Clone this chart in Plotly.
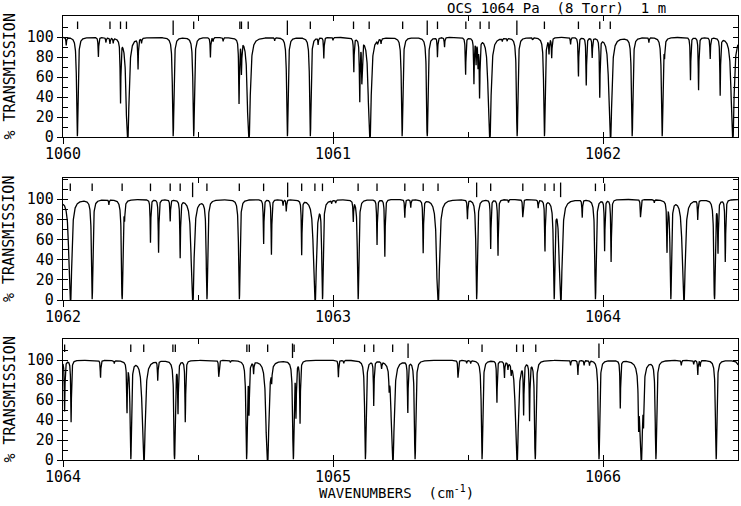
import numpy as np
import plotly.graph_objects as go

# ---------------- data ----------------
panel_start = [1060.0, 1062.0, 1064.0]
panel_span = 2.5
y_tick_values = [0, 20, 40, 60, 80, 100]

# broad, saturated lines (main series), reach 0 %
strong_nu = [1060.239, 1060.688, 1061.136, 1061.580, 1062.027, 1062.480, 1062.933,
             1063.389, 1063.843, 1064.299, 1064.757, 1065.221, 1065.681, 1066.141]

# narrow, saturated lines, reach ~0 %
deep_nu = [1060.053, 1060.408, 1060.484, 1060.831, 1060.916, 1061.256, 1061.349,
           1061.682, 1061.783, 1062.108, 1062.219, 1062.533, 1062.653, 1062.961,
           1063.093, 1063.532, 1063.819, 1063.972, 1064.251, 1064.413, 1064.680,
           1064.853, 1065.120, 1065.304, 1065.552, 1065.749, 1065.985, 1066.196,
           1066.419, 1066.512]

# unsaturated lines: centre and minimum transmission (%)
weak_nu = [1060.012, 1060.131, 1060.159, 1060.174, 1060.186, 1060.213, 1060.278,
           1060.291, 1060.546, 1060.556, 1060.593, 1060.652, 1060.661, 1060.784,
           1060.945, 1060.966, 1061.000, 1061.077, 1061.099, 1061.107, 1061.165,
           1061.178, 1061.387, 1061.413, 1061.491, 1061.522, 1061.530, 1061.537,
           1061.543, 1061.627, 1061.645, 1061.739, 1061.800, 1061.810, 1061.880,
           1061.909, 1061.938, 1061.960, 1061.988, 1062.170, 1062.228, 1062.324,
           1062.354, 1062.397, 1062.434, 1062.743, 1062.772, 1062.815, 1062.827,
           1062.884, 1062.995, 1063.010, 1063.075, 1063.163, 1063.192, 1063.266,
           1063.288, 1063.334, 1063.498, 1063.584, 1063.611, 1063.650, 1063.703,
           1063.760, 1063.785, 1063.923, 1064.006, 1064.030, 1064.139, 1064.190,
           1064.237, 1064.351, 1064.426, 1064.453, 1064.577, 1064.620, 1064.689,
           1064.706, 1064.773, 1064.863, 1064.878, 1065.020, 1065.040, 1065.151,
           1065.180, 1065.208, 1065.277, 1065.463, 1065.495, 1065.510, 1065.607,
           1065.635, 1065.648, 1065.660, 1065.706, 1065.728, 1065.880, 1065.907,
           1065.930, 1065.950, 1066.064, 1066.132, 1066.150, 1066.290, 1066.336,
           1066.351, 1066.360]
weak_min_pct = [92, 80, 95, 94, 95, 34, 69,
                95, 80, 96, 96, 34, 65, 97,
                93, 79, 97, 65, 35, 55, 96,
                95, 80, 90, 62, 54, 75, 72,
                39, 97, 97, 98, 85, 80, 93,
                60, 52, 80, 40, 95, 85, 57,
                47, 78, 42, 55, 45, 94, 88,
                45, 97, 97, 79, 54, 43, 82,
                92, 47, 81, 51, 43, 97, 82,
                92, 48, 82, 49, 38, 82, 97,
                48, 80, 48, 37, 83, 98, 48,
                88, 85, 44, 37, 83, 97, 54,
                93, 80, 47, 82, 97, 97, 57,
                83, 93, 90, 47, 40, 95, 85,
                95, 95, 52, 40, 45, 95, 96,
                85, 94]

# line-assignment marks above the spectra
tick_nu = [1060.054, 1060.174, 1060.213, 1060.235, 1060.484, 1060.655, 1060.661,
           1060.686, 1060.916, 1061.076, 1061.134, 1061.258, 1061.387, 1061.492,
           1061.545, 1061.578, 1061.783, 1061.909, 1061.988, 1062.027,
           1062.108, 1062.219, 1062.324, 1062.397, 1062.434, 1062.533, 1062.653,
           1062.743, 1062.884, 1062.933, 1062.961, 1063.093, 1063.163, 1063.266,
           1063.334, 1063.389, 1063.584, 1063.703, 1063.785, 1063.819, 1063.972,
           1064.006,
           1064.251, 1064.299, 1064.407, 1064.416, 1064.681, 1064.690, 1064.758,
           1064.856, 1065.117, 1065.151, 1065.221, 1065.552, 1065.680, 1065.705,
           1065.751]
long_tick_nu = [1060.408, 1060.831, 1061.349, 1061.681,
                1062.480, 1062.832, 1063.532, 1063.843,
                1064.850, 1065.278, 1065.985]

title_text = "OCS 1064 Pa  (8 Torr)  1 m"
x_title = "WAVENUMBERS  (cm<sup>-1</sup>)"
y_title = "% TRANSMISSION"

# ---------------- spectrum from the line list ----------------
gamma = 0.0012
strong_tau = 20.0
deep_tau = 5.0
centres = np.array(strong_nu + deep_nu + weak_nu)
taus = np.array([strong_tau] * len(strong_nu) + [deep_tau] * len(deep_nu)
                + list(-np.log(np.array(weak_min_pct) / 100.0)))


def transmission(nu):
    d = nu[:, None] - centres[None, :]
    tau = (taus[None, :] * gamma ** 2 / (d ** 2 + gamma ** 2)).sum(axis=1)
    return 100.0 * np.exp(-tau)


# ---------------- figure ----------------
MONO = "DejaVu Sans Mono"
W, H = 741, 506
ML, MR, MT, MB = 63, 3, 16, 46
plot_w = W - ML - MR
plot_h = H - MT - MB
panel_px = [(16, 137), (178, 300), (339, 460)]   # top / bottom of the frames
YMAX = 121


def px_x(px):
    return (px - ML) / plot_w


def px_y(py):
    return (H - MB - py) / plot_h


fig = go.Figure()
layout = dict(width=W, height=H, margin=dict(l=ML, r=MR, t=MT, b=MB),
              paper_bgcolor="white", plot_bgcolor="white", showlegend=False,
              font=dict(family=MONO, color="black"))
annotations = []

for i, s in enumerate(panel_start, start=1):
    top, bot = panel_px[i - 1]
    dom = [px_y(bot), px_y(top)]
    rng = [s, s + panel_span]
    nu = np.arange(s, s + panel_span + 1e-9, 0.0004)
    fig.add_trace(go.Scatter(x=nu, y=transmission(nu), mode="lines",
                             line=dict(color="black", width=1.3),
                             xaxis=f"x{i}", yaxis=f"y{i}", hoverinfo="skip"))
    # assignment marks
    tx, ty = [], []
    for p in tick_nu:
        if s <= p <= s + 2.03:
            tx += [p, p, None]
            ty += [108, 115.5, None]
    for p in long_tick_nu:
        if s <= p <= s + 2.03:
            tx += [p, p, None]
            ty += [102, 116.5, None]
    fig.add_trace(go.Scatter(x=tx, y=ty, mode="lines",
                             line=dict(color="black", width=1.3),
                             xaxis=f"x{i}", yaxis=f"y{i}", hoverinfo="skip"))
    # invisible trace so the overlay (tick-only) axes are drawn
    fig.add_trace(go.Scatter(x=[s], y=[50], mode="markers", marker=dict(opacity=0),
                             xaxis=f"x{i + 3}", yaxis=f"y{i + 3}", hoverinfo="skip"))

    xk = "xaxis" if i == 1 else f"xaxis{i}"
    yk = "yaxis" if i == 1 else f"yaxis{i}"
    layout[xk] = dict(domain=[0, 1], range=rng, anchor=f"y{i}",
                      tickmode="linear", tick0=s, dtick=1,
                      ticks="outside", ticklen=6, tickwidth=1.2, tickcolor="black",
                      ticklabelstandoff=-3,
                      showline=True, mirror=True, linecolor="black", linewidth=1.2,
                      showgrid=False, zeroline=False,
                      tickfont=dict(family=MONO, size=15, color="black"))
    layout[yk] = dict(domain=dom, range=[0, YMAX], anchor=f"x{i}",
                      tickmode="array", tickvals=y_tick_values,
                      ticks="outside", ticklen=5, tickwidth=1.2, tickcolor="black",
                      showline=True, mirror=True, linecolor="black", linewidth=1.2,
                      showgrid=False, zeroline=False,
                      tickfont=dict(family=MONO, size=15, color="black"))
    layout[f"xaxis{i + 3}"] = dict(domain=[0, 1], range=rng, anchor=f"y{i}",
                                   overlaying=f"x{i}", side="bottom",
                                   tickmode="linear", tick0=s, dtick=0.5,
                                   ticks="inside", ticklen=5, tickwidth=1.2,
                                   tickcolor="black", mirror="allticks",
                                   showline=False, showticklabels=False,
                                   showgrid=False, zeroline=False)
    layout[f"yaxis{i + 3}"] = dict(domain=dom, range=[0, YMAX], anchor=f"x{i}",
                                   overlaying=f"y{i}", side="left",
                                   tickmode="linear", tick0=0, dtick=10,
                                   ticks="inside", ticklen=5, tickwidth=1.2,
                                   tickcolor="black", mirror="allticks",
                                   showline=False, showticklabels=False,
                                   showgrid=False, zeroline=False)
    annotations.append(dict(text=y_title, xref="paper", yref="paper",
                            x=px_x(9), y=sum(dom) / 2,
                            textangle=-90, showarrow=False,
                            xanchor="center", yanchor="middle",
                            font=dict(family=MONO, size=15, color="black")))

annotations.append(dict(text=title_text.replace(" ", "\u00a0"), xref="paper", yref="paper",
                        x=px_x(556), y=px_y(8),
                        showarrow=False, xanchor="center", yanchor="middle",
                        font=dict(family=MONO, size=14, color="black")))
annotations.append(dict(text=x_title.replace("  ", "\u00a0\u00a0"), xref="paper", yref="paper",
                        x=px_x(396), y=px_y(492),
                        showarrow=False, xanchor="center", yanchor="middle",
                        font=dict(family=MONO, size=14, color="black")))
layout["annotations"] = annotations
fig.update_layout(**layout)
# remove the default page margin so the figure sits at the window's corner
fig.write_html("out.html", config={"displayModeBar": False},
               post_script="document.body.style.margin='0px';")
